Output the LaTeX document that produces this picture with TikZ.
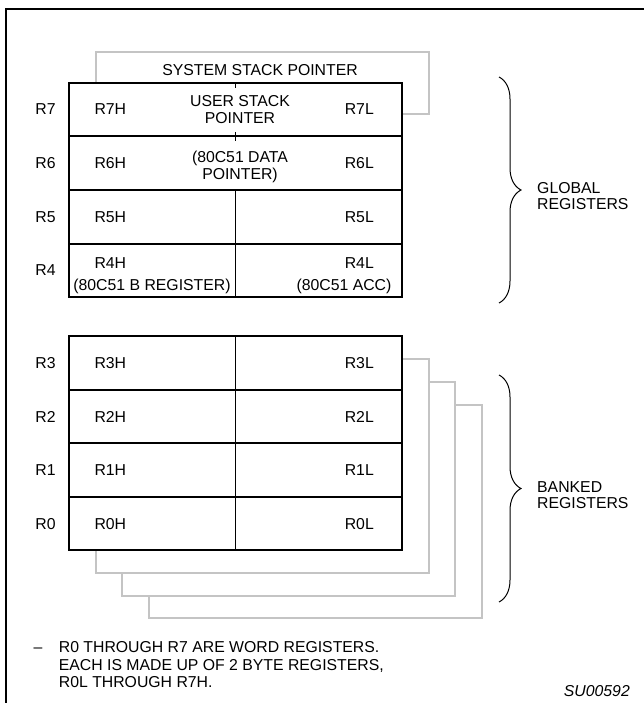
\documentclass[tikz,border=0pt]{standalone}
\usepackage{fontspec}
\setmainfont{Liberation Sans}
\usetikzlibrary{decorations.pathreplacing}
\definecolor{greyline}{RGB}{196,196,196}
\begin{document}
\begin{tikzpicture}[x=1pt,y=-1pt,
  txt/.style={inner sep=0pt, font=\fontsize{15.8}{17.5}\selectfont, text height=11.3pt, text depth=0pt},
  tbl/.style={draw=black, line width=1.4pt, fill=white},
  tline/.style={draw=black, line width=1.4pt},
  grey/.style={draw=greyline, line width=1.6pt, fill=white},
  brc/.style={draw, line width=1pt, decorate, decoration={brace, amplitude=22pt}},
  frm/.style={draw=black, line width=2pt}
]
\useasboundingbox (0,0) rectangle (643,703);
% outer frame (left and top edges visible)
\draw[frm] (6,710) -- (6,9) -- (650,9);

% ---------- global registers ----------
\draw[grey] (96,52) rectangle (429,114);
\node[txt] (ssp) at (260,70) {SYSTEM STACK POINTER};
\draw[tbl] (69,83) rectangle (402,297);
\draw[tline] (69,136) -- (402,136);
\draw[tline] (69,190) -- (402,190);
\draw[tline] (69,244) -- (402,244);
\draw[tline] (235.5,83) -- (235.5,88);
\draw[tline] (235.5,132) -- (235.5,141);
\draw[tline] (235.5,190) -- (235.5,297);

\node[txt] (r7) at (45.5,109) {R7};
\node[txt] (r6) at (45.5,163) {R6};
\node[txt] (r5) at (45.5,217) {R5};
\node[txt] (r4) at (45.5,270) {R4};

\node[txt,anchor=west] (r7h) at (94.3,109) {R7H};
\node[txt,anchor=east] (r7l) at (374,109) {R7L};
\node[txt] (usp1) at (240,101) {USER STACK};
\node[txt] (usp2) at (240,118) {POINTER};

\node[txt,anchor=west] (r6h) at (94.3,163) {R6H};
\node[txt,anchor=east] (r6l) at (374,163) {R6L};
\node[txt] (dp1) at (240,156.5) {(80C51 DATA};
\node[txt] (dp2) at (240,173.5) {POINTER)};

\node[txt,anchor=west] (r5h) at (94.3,217) {R5H};
\node[txt,anchor=east] (r5l) at (374,217) {R5L};

\node[txt,anchor=west] (r4h) at (94.3,263) {R4H};
\node[txt,anchor=east] (r4l) at (374,263) {R4L};
\node[txt] (breg) at (152,285) {(80C51 B REGISTER)};
\node[txt] (acc) at (344,285) {(80C51 ACC)};

\coordinate (gtop) at (499,77);
\coordinate (gbot) at (499,303);
\draw[brc] (gtop) -- (gbot);
\node[txt,anchor=west] (glob1) at (537,188) {GLOBAL};
\node[txt,anchor=west] (glob2) at (537,204) {REGISTERS};

% ---------- banked registers ----------
\draw[grey] (149,405) rectangle (482,618);
\draw[grey] (122,382) rectangle (455,596);
\draw[grey] (96,359) rectangle (429,573);
\draw[tbl] (69,336) rectangle (402,550);
\draw[tline] (69,390) -- (402,390);
\draw[tline] (69,443) -- (402,443);
\draw[tline] (69,497) -- (402,497);
\draw[tline] (235.5,336) -- (235.5,550);

\node[txt] (r3) at (45.5,363) {R3};
\node[txt] (r2) at (45.5,416.5) {R2};
\node[txt] (r1) at (45.5,470) {R1};
\node[txt] (r0) at (45.5,523.5) {R0};

\node[txt,anchor=west] (r3h) at (94.3,363) {R3H};
\node[txt,anchor=east] (r3l) at (374,363) {R3L};
\node[txt,anchor=west] (r2h) at (94.3,416.5) {R2H};
\node[txt,anchor=east] (r2l) at (374,416.5) {R2L};
\node[txt,anchor=west] (r1h) at (94.3,470) {R1H};
\node[txt,anchor=east] (r1l) at (374,470) {R1L};
\node[txt,anchor=west] (r0h) at (94.3,523.5) {R0H};
\node[txt,anchor=east] (r0l) at (374,523.5) {R0L};

\coordinate (btop) at (499,375);
\coordinate (bbot) at (499,602);
\draw[brc] (btop) -- (bbot);
\node[txt,anchor=west] (bank1) at (537,487) {BANKED};
\node[txt,anchor=west] (bank2) at (537,503) {REGISTERS};

% ---------- note ----------
\node[txt] (dash) at (38,647) {--};
\node[txt,anchor=west] (n1) at (58.7,647) {R0 THROUGH R7 ARE WORD REGISTERS.};
\node[txt,anchor=west] (n2) at (58.7,664.5) {EACH IS MADE UP OF 2 BYTE REGISTERS,};
\node[txt,anchor=west] (n3) at (58.7,682) {R0L THROUGH R7H.};
\node[txt,anchor=east,font=\fontsize{15.8}{17.5}\selectfont\itshape] (su) at (630,691) {SU00592};
\end{tikzpicture}
\end{document}
